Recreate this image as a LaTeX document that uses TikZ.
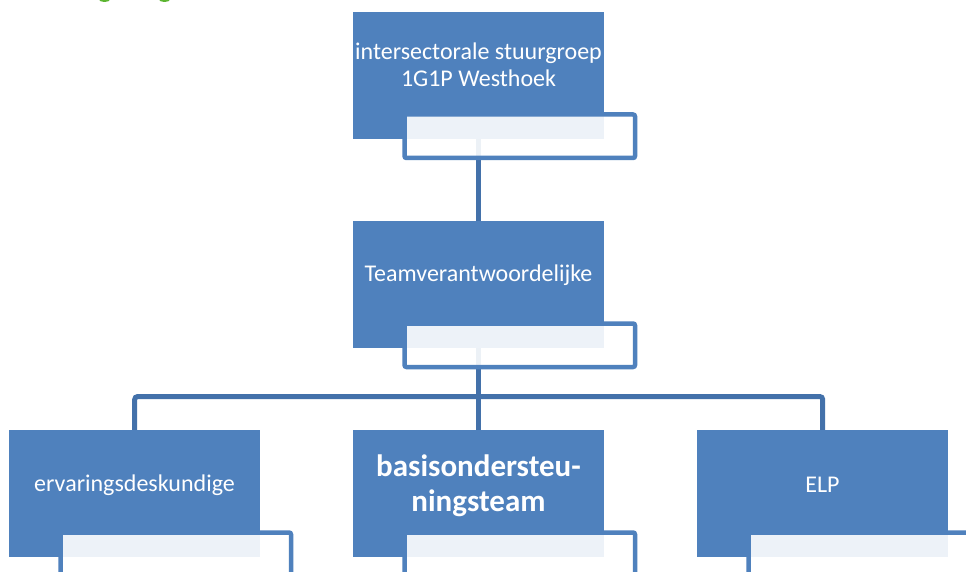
\documentclass[tikz,border=0pt]{standalone}
\usepackage{fontspec}
\setmainfont{Carlito}
\definecolor{boxblue}{HTML}{4F81BD}
\definecolor{linkblue}{HTML}{4371AA}
\definecolor{grn}{HTML}{5CB531}
\pgfdeclarelayer{bg}
\pgfsetlayers{bg,main}
\begin{document}
\begin{tikzpicture}[x=1pt,y=-1pt,
  bluebox/.style={fill=boxblue, draw=none, minimum width=251pt, minimum height=127pt, anchor=north west, inner sep=0pt},
  panel/.style={draw=boxblue, line width=4.5pt, fill=white, fill opacity=0.9, rounded corners=2pt, minimum width=230.5pt, minimum height=43.5pt, anchor=north west, inner sep=0pt},
  link/.style={draw=linkblue, line width=5pt},
  lbl/.style={text=white, align=center, font=\fontsize{24}{26.5}\selectfont, inner sep=0pt},
  blbl/.style={text=white, align=center, font=\bfseries\fontsize{31}{35}\selectfont, inner sep=0pt}]
\clip (0,0) rectangle (966,572);
% boxes
\node[bluebox] (b1) at (353,12) {};
\node[bluebox] (b2) at (353,221) {};
\node[bluebox] (b3) at (9,430) {};
\node[bluebox] (b4) at (353,430) {};
\node[bluebox] (b5) at (697,430) {};
\coordinate (hb) at (478.5,396.5);
% background and connectors behind the boxes
\begin{pgfonlayer}{bg}
\fill[white] (0,0) rectangle (966,572);
\fill[grn] (104.5,-0.5) ellipse (5.5 and 2.5);
\fill[grn] (164.5,-0.5) ellipse (5.5 and 2.5);
\draw[link] (b1.south) -- (b2.north);
\draw[link] (b2.south) -- (b4.north);
\draw[link, rounded corners=3pt] (b3.north) -- (b3.north |- hb) -- (b5.north |- hb) -- (b5.north);
\end{pgfonlayer}
% panels
\node[panel] (p1) at (402.25,112.25) {};
\node[panel] (p2) at (402.25,321.25) {};
\node[panel] (p3) at (58.25,530.25) {};
\node[panel] (p4) at (402.25,530.25) {};
\node[panel] (p5) at (746.25,530.25) {};
% labels
\node[lbl] (t1) at (478.5,65) {intersectorale stuurgroep\\1G1P Westhoek};
\node[lbl] (t2) at (478.5,275) {Teamverantwoordelijke};
\node[lbl] (t3) at (134.5,485) {ervaringsdeskundige};
\node[blbl] (t4) at (478.5,485.5) {basisondersteu-\\ningsteam};
\node[lbl] (t5) at (822.5,485) {ELP};
\end{tikzpicture}
\end{document}
